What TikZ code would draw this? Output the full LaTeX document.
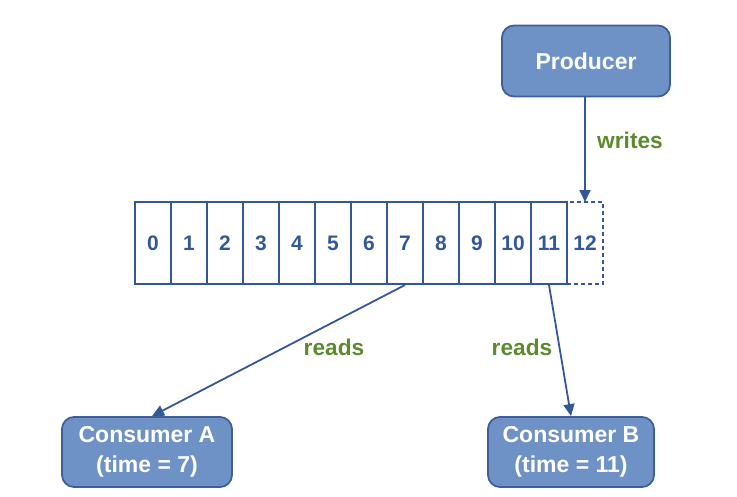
\documentclass[tikz,border=0pt]{standalone}
\usepackage{fontspec}
\setmainfont{Liberation Sans}
\usetikzlibrary{arrows.meta}
\definecolor{boxfill}{HTML}{6E92C6}
\definecolor{boxline}{HTML}{3F5F98}
\definecolor{cellblue}{HTML}{33589A}
\definecolor{lblgreen}{HTML}{5C8A2E}
\begin{document}
\begin{tikzpicture}[x=1pt,y=-1pt,
  actor/.style={draw=boxline, fill=boxfill, line width=1.8pt, rounded corners=12pt,
    text=white, font=\fontsize{23}{29.5}\selectfont\bfseries, align=center, inner sep=0pt},
  cell/.style={draw=cellblue, line width=2pt, minimum width=36pt, minimum height=82pt,
    inner sep=0pt, text=cellblue, font=\fontsize{21}{24}\selectfont\bfseries},
  arr/.style={draw=cellblue, line width=1.8pt, -{Triangle[length=12pt,width=11pt]}},
  lbl/.style={text=lblgreen, font=\fontsize{22.7}{26}\selectfont\bfseries}]
\useasboundingbox (0,0) rectangle (737,496);
\foreach \i in {0,...,11}{
  \node[cell] (c\i) at ({153+36*\i},243) {\i};
}
\node[cell, dashed, dash pattern=on 4pt off 3pt] (c12) at (585,243) {12};
\node[actor, minimum width=168pt, minimum height=71pt] (prod) at (586,61) {Producer};
\node[actor, minimum width=170pt, minimum height=70pt] (ca) at (147,452) {Consumer A\\(time = 7)};
\node[actor, minimum width=166pt, minimum height=70pt] (cb) at (571,452) {Consumer B\\(time = 11)};
\draw[arr] (prod.south -| c12.north) -- ([yshift=-1pt]c12.north);
\draw[arr] (c7.south) -- ([xshift=5pt]ca.north);
\draw[arr] (c11.south) -- (cb.north);
\node[lbl] (w) at (630,140) {writes};
\node[lbl] (r1) at (334,347) {reads};
\node[lbl] (r2) at (522,347) {reads};
\end{tikzpicture}
\end{document}
